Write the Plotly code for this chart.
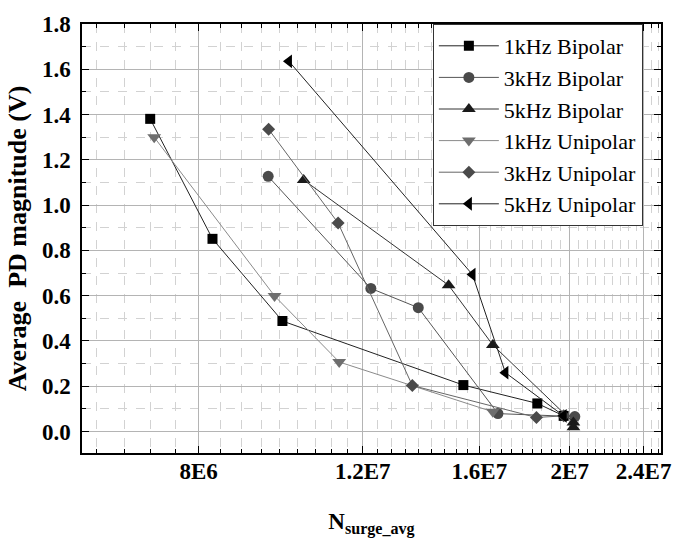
import math
import plotly.graph_objects as go

# ---- data ----
x_1k_bi = [7.10e6, 8.28e6, 9.84e6, 1.538e7, 1.846e7, 1.97e7]
y_1k_bi = [1.381, 0.851, 0.488, 0.205, 0.124, 0.069]

x_3k_bi = [9.50e6, 1.224e7, 1.376e7, 1.675e7, 2.025e7]
y_3k_bi = [1.127, 0.632, 0.547, 0.079, 0.066]

x_5k_bi = [1.037e7, 1.483e7, 1.654e7, 2.018e7, 2.018e7]
y_5k_bi = [1.111, 0.646, 0.382, 0.040, 0.019]

x_1k_uni = [7.17e6, 9.65e6, 1.132e7, 1.654e7]
y_1k_uni = [1.300, 0.599, 0.307, 0.087]

x_3k_uni = [9.51e6, 1.129e7, 1.356e7, 1.842e7, 1.97e7]
y_3k_uni = [1.335, 0.921, 0.203, 0.062, 0.069]

x_5k_uni = [1.0e7, 1.573e7, 1.706e7, 1.97e7]
y_5k_uni = [1.635, 0.693, 0.260, 0.069]

series_names = ["1kHz Bipolar", "3kHz Bipolar", "5kHz Bipolar",
                "1kHz Unipolar", "3kHz Unipolar", "5kHz Unipolar"]

x_tickvals = [8e6, 1.2e7, 1.6e7, 2e7, 2.4e7]
x_ticktext = ["8E6", "1.2E7", "1.6E7", "2E7", "2.4E7"]
y_tickvals = [0.0, 0.2, 0.4, 0.6, 0.8, 1.0, 1.2, 1.4, 1.6, 1.8]
y_ticktext = ["0.0", "0.2", "0.4", "0.6", "0.8", "1.0", "1.2", "1.4", "1.6", "1.8"]

# minor ticks: 8 subdivisions between majors (step 4E6/9)
step = 4e6 / 9
x_minor = [8e6 + k * step for k in range(-4, 39) if k % 9 != 0]
y_minor = [0.1 + 0.2 * k for k in range(9)]

styles = [
    dict(symbol="square", size=10, mcolor="#000000", lcolor="#222222"),
    dict(symbol="circle", size=11, mcolor="#4a4a4a", lcolor="#555555"),
    dict(symbol="triangle-up", size=12, mcolor="#1a1a1a", lcolor="#333333"),
    dict(symbol="triangle-down", size=12, mcolor="#6e6e6e", lcolor="#8a8a8a"),
    dict(symbol="diamond", size=10, mcolor="#4a4a4a", lcolor="#666666"),
    dict(symbol="triangle-left", size=12, mcolor="#000000", lcolor="#222222"),
]
xs = [x_1k_bi, x_3k_bi, x_5k_bi, x_1k_uni, x_3k_uni, x_5k_uni]
ys = [y_1k_bi, y_3k_bi, y_5k_bi, y_1k_uni, y_3k_uni, y_5k_uni]

fig = go.Figure()
for name, x, y, st in zip(series_names, xs, ys, styles):
    fig.add_trace(go.Scatter(
        x=x, y=y, name=name, mode="lines+markers",
        line=dict(color=st["lcolor"], width=1),
        marker=dict(symbol=st["symbol"], size=st["size"], color=st["mcolor"],
                    line=dict(width=0)),
    ))

SERIF = "Liberation Serif, Times New Roman, serif"

fig.update_layout(
    width=683, height=544,
    margin=dict(l=82, r=13, t=15, b=91),
    paper_bgcolor="white", plot_bgcolor="white",
    font=dict(family=SERIF, color="black"),
    showlegend=True,
    legend=dict(
        x=0.606, y=1.0, xanchor="left", yanchor="top",
        bgcolor="white", bordercolor="#333333", borderwidth=1,
        font=dict(family=SERIF, size=22, color="black"),
        itemwidth=60, tracegroupgap=0,
    ),
    xaxis=dict(
        type="log",
        range=[math.log10(6.0e6), math.log10(2.505e7)],
        tickmode="array", tickvals=x_tickvals, ticktext=x_ticktext,
        tickfont=dict(family=SERIF, size=23, color="black", weight="bold"),
        ticks="inside", ticklen=7, tickwidth=1.2, tickcolor="black",
        showline=True, linecolor="black", linewidth=1.5, mirror="allticks",
        showgrid=True, gridcolor="#b4b4b4", gridwidth=1,
        zeroline=False,
        minor=dict(tickmode="array", tickvals=x_minor, ticks="inside", ticklen=4,
                   tickwidth=1, tickcolor="black", showgrid=True,
                   gridcolor="#d2d2d2", griddash="dash", gridwidth=1),
        title=dict(text="<b>N<sub>surge_avg</sub></b>",
                   font=dict(family=SERIF, size=23, color="black"),
                   standoff=30),
        ticklabelstandoff=-3,
    ),
    yaxis=dict(
        range=[-0.095, 1.8],
        tickmode="array", tickvals=y_tickvals, ticktext=y_ticktext,
        tickfont=dict(family=SERIF, size=23, color="black", weight="bold"),
        ticks="inside", ticklen=7, tickwidth=1.2, tickcolor="black",
        showline=True, linecolor="black", linewidth=1.5, mirror="allticks",
        showgrid=True, gridcolor="#b4b4b4", gridwidth=1,
        zeroline=False,
        minor=dict(tickmode="array", tickvals=y_minor, ticks="inside", ticklen=4,
                   tickwidth=1, tickcolor="black", showgrid=True,
                   gridcolor="#d2d2d2", griddash="dash", gridwidth=1),
        title=dict(text="<b>Average  PD magnitude (V)</b>",
                   font=dict(family=SERIF, size=26, color="black"),
                   standoff=8),
        ticklabelstandoff=5,
    ),
)

fig.write_html("out.html")
